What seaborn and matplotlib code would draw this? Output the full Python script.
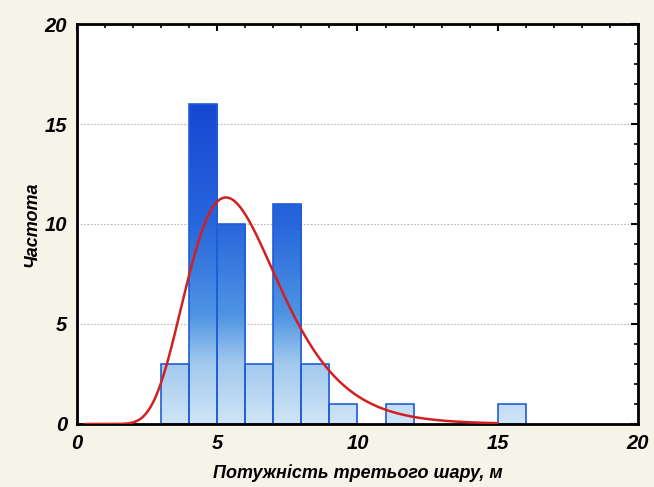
import numpy as np
import pandas as pd
import matplotlib
matplotlib.use("Agg")
import matplotlib.pyplot as plt
import seaborn as sns
from matplotlib.colors import LinearSegmentedColormap
from matplotlib.ticker import MultipleLocator

# Histogram of the third-layer thickness (bin width 1 m)
bin_left = [3, 4, 5, 6, 7, 8, 9, 10, 11, 12, 13, 14, 15]
counts = [3, 16, 10, 3, 11, 3, 1, 0, 1, 0, 0, 0, 1]
bin_width = 1.0

x_ticks = [0, 5, 10, 15, 20]
y_ticks = [0, 5, 10, 15, 20]
x_label = "Потужність третього шару, м"
y_label = "Частота"

df = pd.DataFrame({"left": bin_left, "count": counts})
df["mid"] = df["left"] + bin_width / 2

# Log-normal fit from the grouped data
n_total = df["count"].sum()
logs = np.log(df["mid"])
mu = np.sum(df["count"] * logs) / n_total
sigma = np.sqrt(np.sum(df["count"] * (logs - mu) ** 2) / n_total)
xs = np.linspace(0.3, 15.0, 400)
pdf = np.exp(-(np.log(xs) - mu) ** 2 / (2 * sigma ** 2)) / (xs * sigma * np.sqrt(2 * np.pi))
fit = pd.DataFrame({"x": xs, "y": pdf * n_total * bin_width})

sns.set_style("white")
plt.rcParams["font.family"] = ["Liberation Sans", "DejaVu Sans"]
plt.rcParams["text.color"] = "black"
plt.rcParams["axes.labelcolor"] = "black"
plt.rcParams["xtick.color"] = "black"
plt.rcParams["ytick.color"] = "black"

bg = "#f6f4e9"
fig = plt.figure(figsize=(6.54, 4.87), dpi=100, facecolor=bg)
ax = fig.add_axes([0.1177, 0.1294, 0.8578, 0.8213])
ax.set_facecolor("white")

sns.histplot(
    data=df, x="mid", weights="count", binwidth=bin_width,
    binrange=(bin_left[0], bin_left[-1] + bin_width),
    ax=ax, stat="count", element="bars", fill=True,
    color="#1e5ed6", edgecolor="#1e5ed6", linewidth=1.2, alpha=1,
)

# Vertical blue gradient shared by all bars
cmap = LinearSegmentedColormap.from_list(
    "bars",
    [(0.0, "#d0e5f7"), (0.15, "#a2c9ee"), (0.27, "#4f95e3"),
     (0.5, "#2866dc"), (0.8, "#1747d4"), (1.0, "#1040d0")],
)
grad = np.linspace(1, 0, 256).reshape(-1, 1)
for patch in list(ax.patches):
    if patch.get_height() <= 0:
        patch.set_visible(False)
        continue
    patch.set_facecolor("none")
    im = ax.imshow(grad, cmap=cmap, vmin=0, vmax=1, extent=[0, 20, 0, 20],
                   aspect="auto", zorder=1.5, interpolation="bilinear")
    im.set_clip_path(patch)
    patch.set_zorder(2)

sns.lineplot(data=fit, x="x", y="y", ax=ax, color="#d21f1f", linewidth=1.8, zorder=3)

ax.set_xlim(0, 20)
ax.set_ylim(0, 20)
ax.set_xticks(x_ticks)
ax.set_yticks(y_ticks)
ax.xaxis.set_minor_locator(MultipleLocator(1))
ax.yaxis.set_minor_locator(MultipleLocator(1))
ax.tick_params(which="major", direction="in", length=5, width=1.5,
               top=True, right=True, labelsize=14.5, pad=7)
ax.tick_params(which="minor", direction="in", length=3, width=1.2,
               top=True, right=True)
for lab in ax.get_xticklabels() + ax.get_yticklabels():
    lab.set_fontweight("bold")
    lab.set_fontstyle("italic")

ax.yaxis.grid(True, linestyle=(0, (1.5, 1.5)), color="#b8b8b8", linewidth=0.8)
ax.set_axisbelow(True)
for s in ax.spines.values():
    s.set_color("black")
    s.set_linewidth(2)
    s.set_visible(True)

ax.set_xlabel(x_label, fontsize=13, fontweight="bold", fontstyle="italic", labelpad=8)
ax.set_ylabel(y_label, fontsize=13, fontweight="bold", fontstyle="italic", labelpad=3)

fig.savefig("out.png", dpi=100, facecolor=bg)
